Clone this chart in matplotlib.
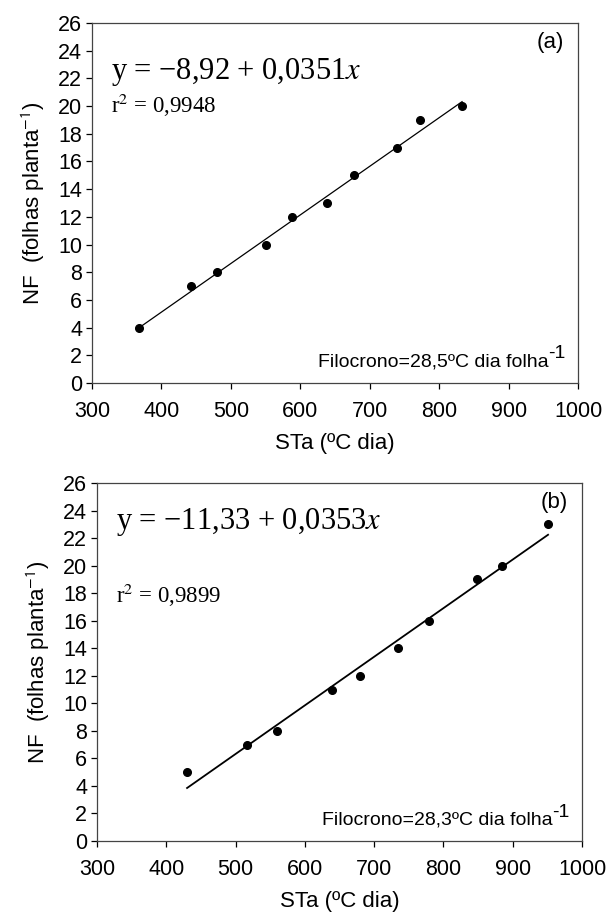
import matplotlib
matplotlib.use("Agg")
import matplotlib.pyplot as plt
import numpy as np
from matplotlib.transforms import offset_copy

plt.rcParams['font.family'] = ['Liberation Sans', 'DejaVu Sans']
plt.rcParams['mathtext.fontset'] = 'stix'

# Panel (a)
sta_a = [368, 443, 480, 551, 588, 638, 677, 739, 773, 833]
nf_a = [4, 7, 8, 10, 12, 13, 15, 17, 19, 20]
coef_a = (-8.92, 0.0351)
eq_a = "y = \u22128,92 + 0,0351"
r2_a = "0,9948"
filo_a = "Filocrono=28,5ºC dia folha"

# Panel (b)
sta_b = [430, 517, 560, 639, 680, 735, 779, 848, 885, 951]
nf_b = [5, 7, 8, 11, 12, 14, 16, 19, 20, 23]
coef_b = (-11.33, 0.0353)
eq_b = "y = \u221211,33 + 0,0353"
r2_b = "0,9899"
filo_b = "Filocrono=28,3ºC dia folha"

xticks = [300, 400, 500, 600, 700, 800, 900, 1000]
yticks = list(range(0, 27, 2))

fig = plt.figure(figsize=(6.09, 9.18), dpi=100)
ax_a = fig.add_axes([92/609, 1-383/918, 486/609, 360/918])
ax_b = fig.add_axes([97/609, 1-841/918, 485/609, 358/918])

panels = [
    (ax_a, sta_a, nf_a, coef_a, eq_a, r2_a, filo_a, "(a)", 0.865, 0.772),
    (ax_b, sta_b, nf_b, coef_b, eq_b, r2_b, filo_b, "(b)", 0.89, 0.685),
]

fig.canvas.draw()
renderer = fig.canvas.get_renderer()

for ax, xs, ys, coef, eq, r2, filo, tag, eqy, r2y in panels:
    lw = 0.9 if tag == "(a)" else 1.3
    xl = np.array([min(xs), max(xs)])
    ax.plot(xl, coef[0] + coef[1]*xl, color='black', lw=lw, zorder=2)
    ax.plot(xs, ys, 'o', color='black', ms=5.5, zorder=3)
    ax.set_xlim(300, 1000)
    ax.set_ylim(0, 26)
    ax.set_xticks(xticks)
    ax.set_yticks(yticks)
    ax.tick_params(axis='both', direction='out', length=4, width=0.9,
                   labelsize=15.5, colors='black', top=False, right=False)
    ax.tick_params(axis='x', pad=9)
    ax.tick_params(axis='y', pad=3)
    for s in ax.spines.values():
        s.set_color('#444444')
        s.set_linewidth(0.9)
    ax.set_xlabel("STa (ºC dia)", fontsize=16, labelpad=8)
    ax.set_ylabel("NF  (folhas planta$^{\\mathsf{-1}}$)", fontsize=16, labelpad=8)
    ax.text(0.04, eqy, eq + "$x$", transform=ax.transAxes, ha='left', va='center',
            fontsize=22, family='Liberation Serif')
    ax.text(0.04, r2y, "r$^{2}$ = " + r2, transform=ax.transAxes, ha='left', va='center',
            fontsize=16.5, family='Liberation Serif')
    ax.text(0.943, 0.945, tag, transform=ax.transAxes, ha='center', va='center', fontsize=16)
    sup = ax.text(0.975, 0.045, "-1", ha='right', va='baseline', fontsize=14,
                  transform=offset_copy(ax.transAxes, fig=fig, x=0, y=6, units='points'))
    w = sup.get_window_extent(renderer).width * 72 / fig.dpi
    ax.text(0.975, 0.045, filo, ha='right', va='baseline', fontsize=14,
            transform=offset_copy(ax.transAxes, fig=fig, x=-w, y=0, units='points'))

fig.savefig("out.png", dpi=100)
